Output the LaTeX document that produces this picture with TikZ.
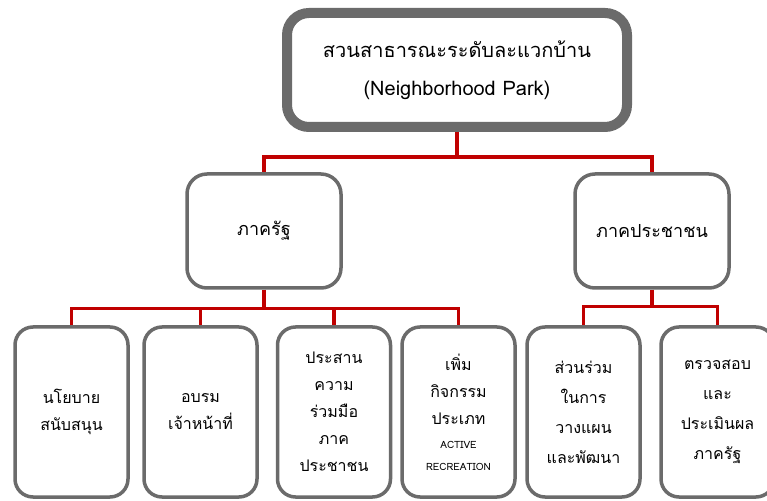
\documentclass[tikz,border=0pt]{standalone}
\usepackage{fontspec}
\setmainfont[Script=Thai]{Loma}
\usepackage{xcolor}
\usepackage{tikz}
\usetikzlibrary{positioning}
\definecolor{boxgray}{HTML}{6B6B6B}
\definecolor{linkred}{HTML}{C00000}

\begin{document}
\begin{tikzpicture}[x=1pt, y=1pt,
  topbox/.style={draw=boxgray,fill=white,line width=10pt,rounded corners=22pt,minimum width=340pt,minimum height=114pt,align=center,font=\fontsize{20}{38}\selectfont},
  secbox/.style={draw=boxgray,fill=white,line width=3.5pt,rounded corners=20pt,minimum width=154pt,minimum height=114pt,align=center,font=\fontsize{18}{24}\selectfont},
  leafbox/.style={draw=boxgray,fill=white,line width=3.5pt,rounded corners=18pt,minimum width=113pt,minimum height=170pt,align=center,font=\fontsize{16}{27}\selectfont},
  link/.style={draw=linkred,line width=3.5pt}]
  \useasboundingbox (0,0) rectangle (767,500);
  %--- top level ---
  \node[topbox] (park) at (457,430) {สวนสาธารณะระดับละแวกบ้าน\\(Neighborhood Park)};
  %--- second level ---
  \node[secbox] (gov) at (264,269) {ภาครัฐ};
  \node[secbox] (pub) at (652,269) {ภาคประชาชน};
  \draw[link] (park.south) -- ++(0,-25) coordinate (pj) -| (gov.north);
  \draw[link] (pj) -| (pub.north);
  %--- leaves under gov ---
  \node[leafbox] (policy) at (71.5,88)  {นโยบาย\\สนับสนุน};
  \node[leafbox] (train)  at (200.5,88) {อบรม\\เจ้าหน้าที่};
  \node[leafbox] (coop)   at (334,88)   {ประสาน\\ความ\\ร่วมมือ\\ภาค\\ประชาชน};
  \node[leafbox] (act)    at (458.5,88) {เพิ่ม\\กิจกรรม\\ประเภท\\[-3pt]{\fontsize{10}{12}\selectfont ACTIVE}\\[-5pt]{\fontsize{10}{12}\selectfont RECREATION}};
  \draw[link] (gov.south) -- ++(0,-19) coordinate (gj) -| (policy.north);
  \foreach \n in {train,coop,act} \draw[link] (gj) -| (\n.north);
  %--- leaves under pub ---
  \node[leafbox] (plan) at (583.5,88) {ส่วนร่วม\\[3pt]ในการ\\[3pt]วางแผน\\[3pt]และพัฒนา};
  \node[leafbox] (eval) at (717.5,88) {ตรวจสอบ\\[3pt]และ\\[3pt]ประเมินผล\\[3pt]ภาครัฐ};
  \draw[link] (pub.south) -- ++(0,-17) coordinate (uj) -| (plan.north);
  \draw[link] (uj) -| (eval.north);
\end{tikzpicture}
\end{document}
